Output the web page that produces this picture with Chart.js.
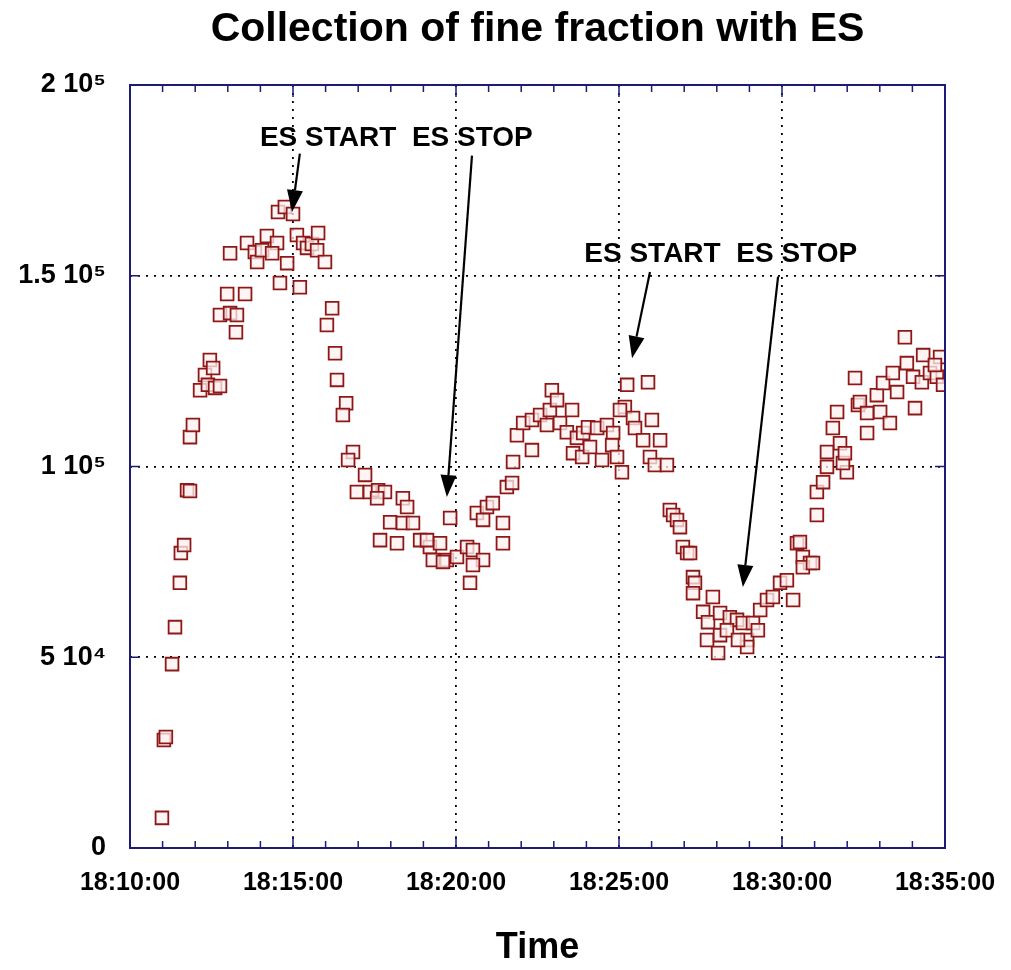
<!DOCTYPE html>
<html>
<head>
<meta charset="utf-8">
<title>Collection of fine fraction with ES</title>
<script src="https://cdn.jsdelivr.net/npm/chart.js@4.4.1/dist/chart.umd.min.js"></script>
<style>
  html, body { margin: 0; padding: 0; background: #fff; }
  #chart { display: block; }
</style>
</head>
<body>
<canvas id="chart" width="1011" height="970"></canvas>
<script>
// minutes after 18:10:00
const minutes = [
  0.98, 1.04, 1.10, 1.29, 1.38, 1.53, 1.56, 1.66, 1.75, 1.84, 1.84, 1.93,
  2.15, 2.30, 2.39, 2.45, 2.55, 2.61, 2.76, 2.76, 2.98, 3.07, 3.25, 3.28,
  3.53, 3.07, 3.59, 3.83, 3.90, 4.05, 4.20, 4.51, 4.36, 4.82, 4.54, 4.75,
  5.00, 4.60, 5.21, 5.12, 5.31, 5.43, 5.58, 5.77, 5.74, 5.98, 6.20, 6.04,
  6.29, 6.35, 6.63, 6.53, 6.84, 6.69, 7.21, 6.96, 7.36, 7.61, 7.82, 7.58,
  8.37, 8.50, 7.98, 8.37, 8.68, 7.67, 8.19, 8.90, 9.20, 9.29, 9.72, 9.51,
  9.11, 9.60, 9.82, 10.03, 10.34, 10.52, 10.83, 10.43, 10.64, 10.95, 11.13, 10.83,
  11.44, 11.44, 10.52, 11.56, 11.72, 11.75, 12.33, 11.87, 12.06, 12.33, 12.58, 12.88,
  12.94, 13.10, 12.79, 13.19, 13.56, 13.40, 13.71, 13.90, 14.05, 14.33, 14.63, 14.82,
  13.59, 13.87, 14.11, 14.48, 14.79, 14.94, 15.09, 15.25, 15.89, 15.18, 15.43, 16.01,
  15.49, 15.74, 16.26, 15.95, 16.10, 16.47, 15.03, 16.56, 16.66, 16.78, 16.87, 16.96,
  17.09, 17.18, 17.27, 17.33, 17.27, 17.88, 17.58, 17.73, 18.10, 17.70, 18.10, 18.04,
  18.40, 18.62, 18.80, 18.31, 18.93, 19.11, 19.33, 19.54, 19.72, 19.94, 20.15, 20.34,
  20.46, 20.64, 20.86, 20.64, 19.26, 18.93, 18.65, 21.07, 21.07, 21.26, 21.38, 20.55,
  20.95, 21.99, 21.87, 21.69, 21.56, 21.78, 21.38, 21.93, 22.24, 22.33, 22.39, 22.61,
  22.61, 22.91, 23.01, 23.10, 23.31, 23.40, 23.53, 23.77, 23.83, 24.02, 24.08, 24.29,
  24.33, 24.54, 24.85, 24.75, 24.94, 24.69
];
const counts = [
  7900, 28300, 29100, 48200, 57900, 69500, 77300, 79400, 93800, 93600, 107700, 110900,
  120000, 124000, 121400, 127900, 125800, 120600, 121100, 139700, 145200, 140200, 135200, 139700,
  145200, 155900, 158600, 156200, 153600, 156700, 160400, 158600, 155900, 153300, 166700, 168000,
  166200, 148100, 147000, 160700, 158600, 157300, 158300, 161200, 156700, 153600, 141500, 137100,
  129700, 122700, 116600, 113500, 103800, 101700, 97800, 93300, 93300, 93800, 93300, 91700,
  91700, 89400, 85400, 85200, 85200, 80700, 79900, 80700, 78900, 75500, 75500, 79900,
  80700, 75000, 86500, 76300, 78900, 78100, 75500, 69500, 87800, 89400, 90400, 86000,
  85200, 79900, 74200, 94600, 95700, 101200, 104300, 108200, 111400, 112200, 113500, 114800,
  120000, 117400, 110900, 111400, 114800, 109000, 107500, 108800, 110300, 110100, 110900, 108800,
  103500, 102500, 105100, 101700, 105600, 102500, 98500, 121400, 122100, 115600, 112700, 112200,
  110100, 106900, 106900, 102500, 100400, 100400, 114800, 88600, 87300, 86000, 84100, 78900,
  77300, 77300, 71000, 69500, 66800, 65800, 61900, 59200, 61600, 54500, 55800, 51100,
  60500, 59800, 59000, 57100, 54500, 59000, 62400, 65000, 65800, 69500, 70200, 65000,
  79900, 76300, 74700, 73600, 57100, 52700, 54500, 87300, 93300, 95900, 99900, 80200,
  74700, 98500, 100900, 114300, 110100, 106100, 103800, 103500, 123200, 116100, 116900, 114000,
  108800, 118700, 114300, 121900, 111400, 124500, 119500, 133900, 127100, 123500, 115300, 122100,
  129200, 124500, 128700, 123500, 121400, 126600
];

const xTickValues = [0, 5, 10, 15, 20, 25];
const xTickLabels = ['18:10:00', '18:15:00', '18:20:00', '18:25:00', '18:30:00', '18:35:00'];
const yTickValues = [0, 50000, 100000, 150000, 200000];
const yTickLabels = ['0', '5 10\u2074', '1 10\u2075', '1.5 10\u2075', '2 10\u2075'];

const chartTitle = 'Collection of fine fraction with ES';

// annotation text and arrows, in data units (minutes, counts)
const noteTexts = ['ES START  ES STOP', 'ES START  ES STOP'];
const noteX = [8.17, 18.12];
const noteY = [186000, 155600];
const arrowFromX = [5.21, 10.49, 15.95, 19.88];
const arrowFromY = [182000, 181500, 151000, 149800];
const arrowToX = [4.97, 9.72, 15.40, 18.80];
const arrowToY = [166700, 92000, 128400, 68400];

const FONT = '"Liberation Sans", Arial, sans-serif';
const NAVY = '#1c1c78';

const points = minutes.map((m, i) => ({ x: m, y: counts[i] }));

// title over the plot, frame, inward ticks and the ES notes
const extras = {
  id: 'extras',
  afterDatasetsDraw(chart) {
    const ctx = chart.ctx;
    const a = chart.chartArea;
    const xs = chart.scales.x;
    const ys = chart.scales.y;
    ctx.save();

    ctx.fillStyle = '#000';
    ctx.font = 'bold 41px ' + FONT;
    ctx.textAlign = 'center';
    ctx.textBaseline = 'middle';
    ctx.fillText(chartTitle, (a.left + a.right) / 2, 30);

    // inward ticks
    ctx.strokeStyle = NAVY;
    ctx.lineWidth = 1.5;
    ctx.beginPath();
    for (let m = 0; m <= 25; m++) {
      const px = xs.getPixelForValue(m);
      const len = m % 5 === 0 ? 12 : 7;
      ctx.moveTo(px, a.bottom); ctx.lineTo(px, a.bottom - len);
      ctx.moveTo(px, a.top); ctx.lineTo(px, a.top + len);
    }
    yTickValues.forEach(v => {
      const py = ys.getPixelForValue(v);
      ctx.moveTo(a.left, py); ctx.lineTo(a.left + 10, py);
      ctx.moveTo(a.right, py); ctx.lineTo(a.right - 10, py);
    });
    ctx.stroke();

    // frame
    ctx.lineWidth = 2;
    ctx.strokeRect(a.left, a.top, a.right - a.left, a.bottom - a.top);

    // arrows
    ctx.strokeStyle = '#000';
    ctx.fillStyle = '#000';
    ctx.lineWidth = 2.2;
    arrowFromX.forEach((fx, i) => {
      const x1 = xs.getPixelForValue(fx), y1 = ys.getPixelForValue(arrowFromY[i]);
      const x2 = xs.getPixelForValue(arrowToX[i]), y2 = ys.getPixelForValue(arrowToY[i]);
      const ang = Math.atan2(y2 - y1, x2 - x1);
      const hl = 22, hw = 8;
      const bx = x2 - hl * Math.cos(ang), by = y2 - hl * Math.sin(ang);
      ctx.beginPath();
      ctx.moveTo(x1, y1); ctx.lineTo(bx, by);
      ctx.stroke();
      ctx.beginPath();
      ctx.moveTo(x2, y2);
      ctx.lineTo(bx + hw * Math.sin(ang), by - hw * Math.cos(ang));
      ctx.lineTo(bx - hw * Math.sin(ang), by + hw * Math.cos(ang));
      ctx.closePath();
      ctx.fill();
    });

    // notes
    ctx.font = 'bold 28px ' + FONT;
    noteTexts.forEach((t, i) => {
      ctx.fillText(t, xs.getPixelForValue(noteX[i]), ys.getPixelForValue(noteY[i]));
    });
    ctx.restore();
  }
};

new Chart(document.getElementById('chart'), {
  type: 'scatter',
  data: {
    datasets: [{
      label: 'fine fraction',
      data: points,
      pointStyle: 'rect',
      pointRadius: 9,
      pointBorderWidth: 1.8,
      pointBorderColor: '#8e1818',
      pointBackgroundColor: 'rgba(255, 240, 240, 0.75)'
    }]
  },
  options: {
    responsive: false,
    animation: false,
    layout: { padding: { left: 0, right: 66, top: 85, bottom: 0 } },
    plugins: {
      legend: { display: false },
      tooltip: { enabled: false },
      title: { display: false }
    },
    scales: {
      x: {
        type: 'linear',
        min: 0,
        max: 25,
        afterBuildTicks: scale => {
          scale.ticks = xTickValues.map(v => ({ value: v }));
        },
        afterFit: scale => {
          scale.height = 122;
          scale.paddingLeft = 0;
          scale.paddingRight = 0;
        },
        ticks: {
          color: '#000',
          padding: 20,
          maxRotation: 0,
          font: { family: FONT, size: 25, weight: 'bold' },
          callback: v => xTickLabels[xTickValues.indexOf(v)]
        },
        grid: {
          drawTicks: false,
          lineWidth: 1.8,
          color: c => (c.tick && c.tick.value > 0 && c.tick.value < 25) ? '#000' : 'rgba(0,0,0,0)'
        },
        border: { display: false, dash: [2, 6] },
        title: {
          display: true,
          text: 'Time',
          color: '#000',
          font: { family: FONT, size: 36, weight: 'bold' },
          padding: { top: 4, bottom: 0 }
        }
      },
      y: {
        min: 0,
        max: 200000,
        afterBuildTicks: scale => {
          scale.ticks = yTickValues.map(v => ({ value: v }));
        },
        afterFit: scale => {
          scale.width = 130;
          scale.paddingTop = 0;
          scale.paddingBottom = 0;
        },
        ticks: {
          color: '#000',
          padding: 24,
          font: { family: FONT, size: 27, weight: 'bold' },
          callback: v => yTickLabels[yTickValues.indexOf(v)]
        },
        grid: {
          drawTicks: false,
          lineWidth: 1.8,
          color: c => (c.tick && c.tick.value > 0 && c.tick.value < 200000) ? '#000' : 'rgba(0,0,0,0)'
        },
        border: { display: false, dash: [2, 6] }
      }
    }
  },
  plugins: [extras]
});
</script>
</body>
</html>
